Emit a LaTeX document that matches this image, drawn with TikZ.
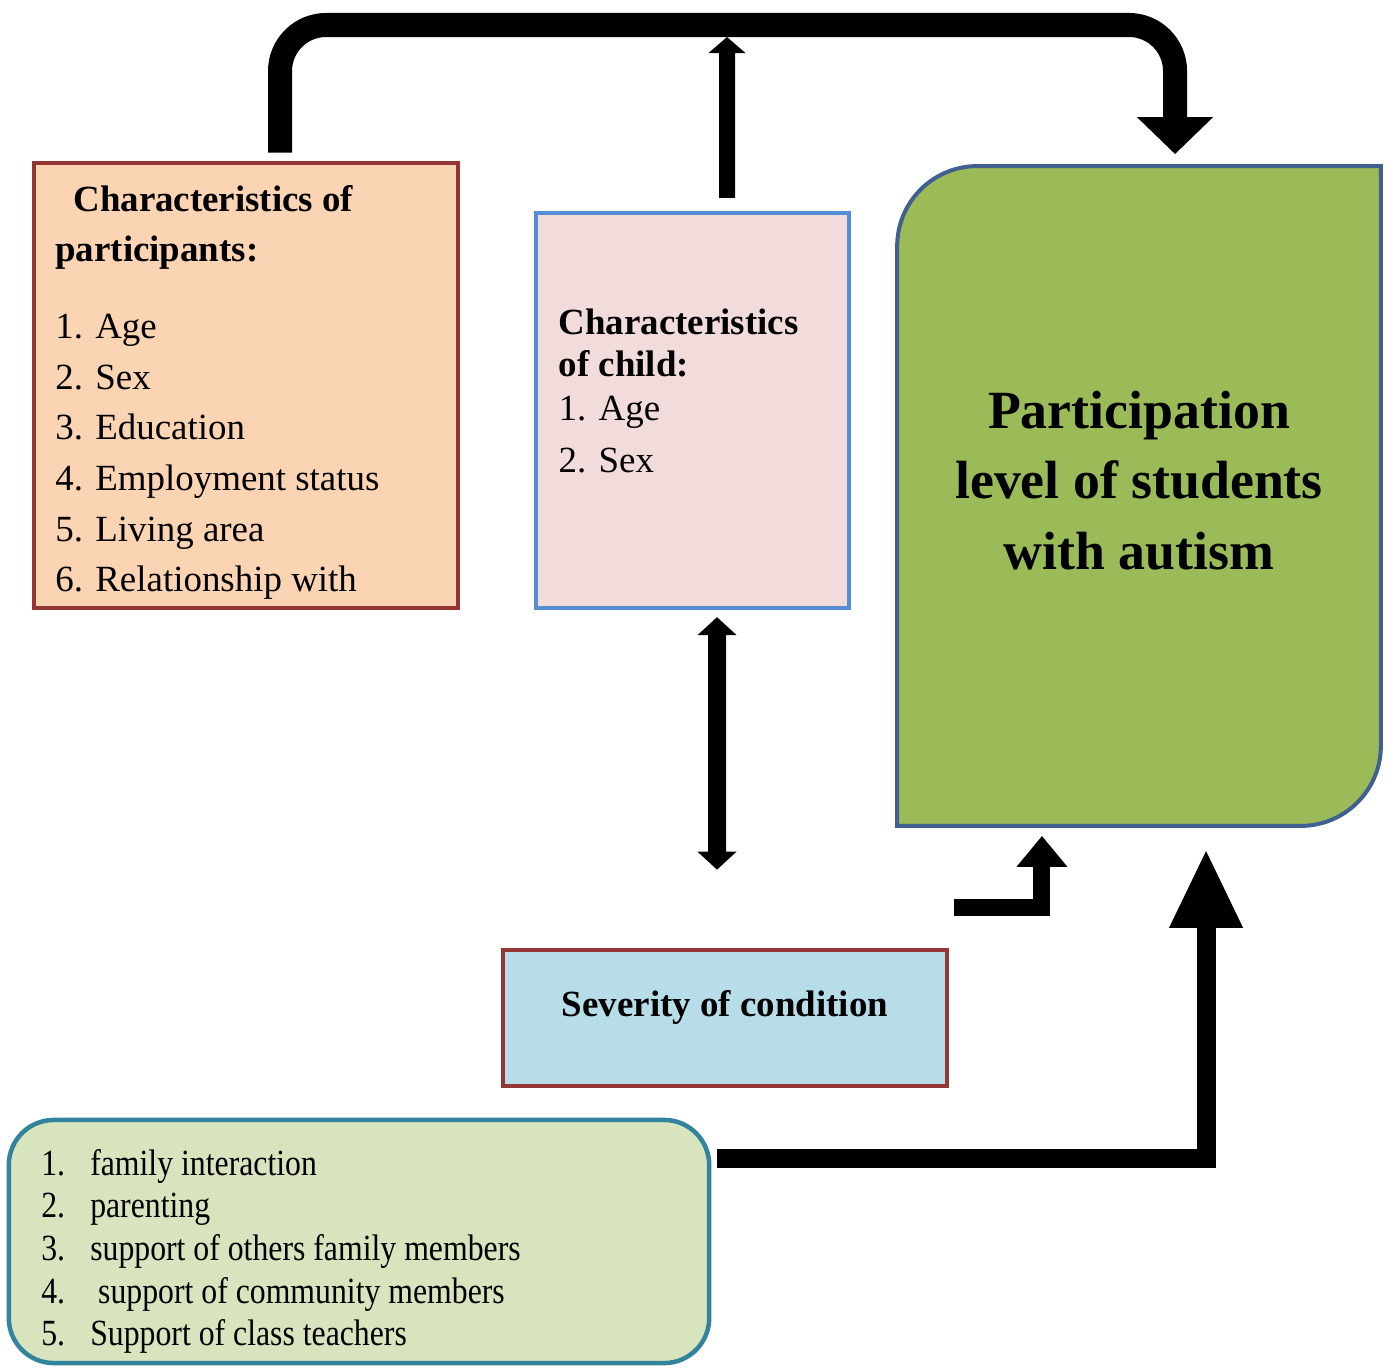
\documentclass[tikz,border=0pt]{standalone}
\usepackage{fontspec}
\setmainfont{Liberation Serif}
\newfontfamily\condserif[FakeStretch=0.86]{Liberation Serif}
\usetikzlibrary{arrows.meta,positioning}
\definecolor{peach}{HTML}{FBD4B4}
\definecolor{brickred}{HTML}{943634}
\definecolor{palepink}{HTML}{F2DCDB}
\definecolor{skyblue}{HTML}{558ED5}
\definecolor{olivegreen}{HTML}{9BBB59}
\definecolor{slateblue}{HTML}{3F6090}
\definecolor{paleblue}{HTML}{B7DDE8}
\definecolor{palegreen}{HTML}{D7E4BD}
\definecolor{tealblue}{HTML}{31849B}
\newcommand{\famitem}[2]{\makebox[0.49cm][l]{#1}#2}

\begin{document}
\begin{tikzpicture}[x=0.01cm, y=-0.01cm,
		box/.style={rectangle, line width=0.045cm, inner sep=0},
		txt/.style={inner sep=0, align=left, font=\fontsize{10.5}{14.4}\selectfont}]
			%%%%% START %%%%%
			\useasboundingbox (0,0) rectangle (1389,1367);
			
			\node[box, fill=peach, draw=brickred, minimum width=4.24cm, minimum height=4.45cm] (part) at (246,385.5) {};
			\node[txt, below right=0.24cm and 0.23cm of part.north west] (parttext) {\hspace*{0.18cm}\textbf{Characteristics of}\\\textbf{participants:}\\[7.4pt]1. Age\\2. Sex\\3. Education\\4. Employment status\\5. Living area\\6. Relationship with};
			
			\node[box, fill=palepink, draw=skyblue, line width=0.04cm, minimum width=3.13cm, minimum height=3.95cm] (child) at (692.5,410.5) {};
			\node[txt, font=\fontsize{10.5}{12}\selectfont, below right=0.97cm and 0.24cm of child.north west] (childtext) {\textbf{Characteristics}\\\textbf{of child:}\\[0.5pt]1. Age\\[2.7pt]2. Sex};
			
			\node[inner sep=0, minimum width=4.82cm, minimum height=6.58cm] (goal) at (1139,496) {};
			\draw[line width=0.04cm, draw=slateblue, fill=olivegreen] (goal.south west) -- ([yshift=-0.8cm]goal.north west) arc[start angle=180, end angle=90, radius=0.8cm] -- (goal.north east) -- ([yshift=0.8cm]goal.south east) arc[start angle=0, end angle=-90, radius=0.8cm] -- cycle;
			\node[inner sep=0, align=center, font=\fontsize{15.3}{20.1}\selectfont\bfseries, below=2.24cm of goal.north] (goaltext) {Participation\\level of students\\with autism};
			
			\node[box, fill=paleblue, draw=brickred, minimum width=4.44cm, minimum height=1.36cm] (sev) at (725,1018) {};
			\node[txt, font=\fontsize{10.5}{12}\selectfont\bfseries, below=0.42cm of sev.north] (sevtext) {Severity of condition};
			
			\node[box, fill=palegreen, draw=tealblue, rounded corners=0.45cm, minimum width=7cm, minimum height=2.43cm] (fam) at (359,1241.5) {};
			\node[txt, font=\condserif\fontsize{10.5}{12.1}\selectfont, below right=0.31cm and 0.34cm of fam.north west] (famtext) {\famitem{1.}{family interaction}\\\famitem{2.}{parenting}\\\famitem{3.}{support of others family members}\\\famitem{4.}{\ support of community members}\\\famitem{5.}{Support of class teachers}};
			
			\coordinate (hub) at (727,25);
			\draw[line width=0.24cm, rounded corners=0.46cm, -{Triangle[width=0.74cm,length=0.37cm]}] ([xshift=0.34cm,yshift=0.08cm]part.north) |- (hub) -| ([xshift=0.36cm,yshift=0.12cm]goal.north);
			\draw[line width=0.16cm, -{Triangle[width=0.36cm,length=0.16cm]}] ([xshift=0.345cm,yshift=0.13cm]child.north) -- ([yshift=-0.12cm]hub);
			\draw[line width=0.18cm, {Triangle[width=0.38cm,length=0.18cm]}-{Triangle[width=0.38cm,length=0.18cm]}] ([xshift=0.245cm,yshift=-0.07cm]child.south) -- ([xshift=-0.08cm,yshift=0.78cm]sev.north);
			\draw[line width=0.17cm, -{Triangle[width=0.49cm,length=0.31cm]}] ([xshift=0.05cm,yshift=0.40cm]sev.north east) -| ([xshift=-0.97cm,yshift=-0.10cm]goal.south);
			\draw[line width=0.19cm, -{Triangle[width=0.68cm,length=0.79cm]}] ([xshift=0.06cm,yshift=-0.41cm]fam.north east) -| ([xshift=0.67cm,yshift=-0.23cm]goal.south);
			
			%%%%% END %%%%%
		\end{tikzpicture}
\end{document}
